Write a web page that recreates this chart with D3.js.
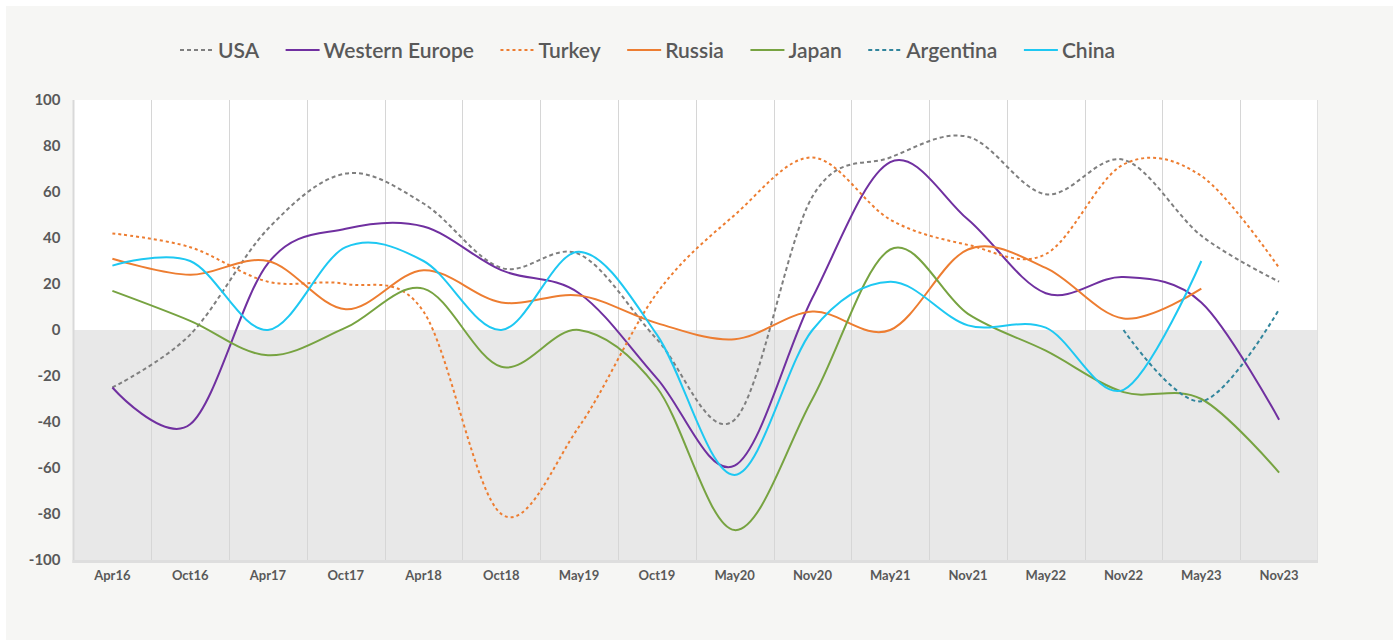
<!DOCTYPE html>
<html>
<head>
<meta charset="utf-8">
<script src="https://cdn.jsdelivr.net/npm/d3@7"></script>
<style>
  html, body { margin: 0; padding: 0; background: #ffffff; }
  svg { display: block; }
  text { font-family: "Lato", "Noto Sans", sans-serif; fill: #595959; }
</style>
</head>
<body>
<svg id="chart" width="1393" height="640"></svg>
<script>
const categories = ["Apr16","Oct16","Apr17","Oct17","Apr18","Oct18","May19","Oct19","May20","Nov20","May21","Nov21","May22","Nov22","May23","Nov23"];
const yTicks = [100, 80, 60, 40, 20, 0, -20, -40, -60, -80, -100];

const usa      = [-25, -2, 44, 68, 55, 27, 33, -4, -39, 58, 75, 84, 59, 74, 41, 21];
const westEu   = [-25, -41, 29, 44, 45, 26, 16, -21, -59, 14, 73, 48, 16, 23, 12, -39];
const turkey   = [42, 36, 21, 20, 8, -80, -42, 16, 50, 75, 48, 37, 33, 72, 67, 27];
const russia   = [31, 24, 30, 9, 26, 12, 15, 3, -4, 8, 0, 35, 27, 5, 18, null];
const japan    = [17, 4, -11, 1, 18, -16, 0, -25, -87, -30, 35, 7, -9, -27, -30, -62];
const argentina= [null, null, null, null, null, null, null, null, null, null, null, null, null, 0, -31, 9];
const china    = [28, 30, 0, 36, 30, 0, 34, -2, -63, 0, 21, 2, 1, -26, 30, null];

const seriesNames = ["USA", "Western Europe", "Turkey", "Russia", "Japan", "Argentina", "China"];
const seriesValues = [usa, westEu, turkey, russia, japan, argentina, china];
const seriesColors = ["#7f7f7f", "#7030a0", "#ed7d31", "#ed7d31", "#77a341", "#31859c", "#1ec8f2"];
const seriesDash = ["4,3", null, "3,3", null, null, "4,3", null];

const svg = d3.select("#chart");
const W = 1393, H = 640;

// panel background
svg.append("rect").attr("x", 0).attr("y", 0).attr("width", W).attr("height", H).attr("fill", "#ffffff");
svg.append("rect").attr("x", 6).attr("y", 6).attr("width", W - 6).attr("height", H - 6).attr("fill", "#f6f6f4");

const plot = { left: 73.5, right: 1318, top: 100, bottom: 560 };

const x = d3.scaleBand().domain(categories).range([plot.left, plot.right]).padding(0);
const y = d3.scaleLinear().domain([-100, 100]).range([plot.bottom, plot.top]);
const cx = c => x(c) + x.bandwidth() / 2;

// plot background: white above zero, gray below
svg.append("rect").attr("x", plot.left).attr("y", y(100)).attr("width", plot.right - plot.left)
  .attr("height", y(0) - y(100)).attr("fill", "#ffffff");
svg.append("rect").attr("x", plot.left).attr("y", y(0)).attr("width", plot.right - plot.left)
  .attr("height", y(-100) - y(0)).attr("fill", "#e8e8e8");

// vertical gridlines between categories
svg.append("g").selectAll("line").data(categories.slice(1)).join("line")
  .attr("x1", d => Math.round(x(d)) + 0.5).attr("x2", d => Math.round(x(d)) + 0.5)
  .attr("y1", y(100)).attr("y2", y(-100))
  .attr("stroke", "#d6d6d6").attr("stroke-width", 1);

// right border
svg.append("line").attr("x1", plot.right - 0.5).attr("x2", plot.right - 0.5)
  .attr("y1", y(100)).attr("y2", y(-100) + 3)
  .attr("stroke", "#e0e0e0").attr("stroke-width", 1);

// left axis line
svg.append("line").attr("x1", plot.left).attr("x2", plot.left)
  .attr("y1", y(100)).attr("y2", y(-100) + 3)
  .attr("stroke", "#d9d9d9").attr("stroke-width", 2);

// bottom axis strip
svg.append("line").attr("x1", plot.left - 1).attr("x2", plot.right)
  .attr("y1", y(-100) + 1.5).attr("y2", y(-100) + 1.5)
  .attr("stroke", "#dedede").attr("stroke-width", 3);

// y axis labels
const yAxis = d3.axisLeft(y).tickValues(yTicks).tickFormat(d => String(d)).tickSize(0).tickPadding(0);
const gy = svg.append("g").attr("transform", `translate(${plot.left - 13},0)`).call(yAxis);
gy.select(".domain").remove();
gy.selectAll("text").attr("font-size", 15).attr("font-weight", "bold")
  .style("font-family", '"Lato", "Noto Sans", sans-serif').attr("fill", "#595959");

// x axis labels
const xAxis = d3.axisBottom(x).tickSize(0).tickPadding(0);
const gx = svg.append("g").attr("transform", `translate(0,${plot.bottom + 11})`).call(xAxis);
gx.select(".domain").remove();
gx.selectAll("text").attr("font-size", 13).attr("font-weight", "bold")
  .style("font-family", '"Lato", "Noto Sans", sans-serif').attr("fill", "#595959");

// lines
const line = d3.line()
  .defined(d => d.v !== null)
  .x(d => cx(d.c))
  .y(d => y(d.v))
  .curve(d3.curveCardinal.tension(0));

seriesNames.forEach((name, i) => {
  const data = categories.map((c, j) => ({ c, v: seriesValues[i][j] }));
  svg.append("path").datum(data)
    .attr("d", line)
    .attr("fill", "none")
    .attr("stroke", seriesColors[i])
    .attr("stroke-width", 2)
    .attr("stroke-dasharray", seriesDash[i])
    .attr("stroke-linejoin", "round");
});

// legend
const legend = svg.append("g");
let lx = 180;
const ly = 50;
seriesNames.forEach((name, i) => {
  legend.append("line")
    .attr("x1", lx).attr("x2", lx + 34).attr("y1", ly).attr("y2", ly)
    .attr("stroke", seriesColors[i]).attr("stroke-width", 2)
    .attr("stroke-dasharray", seriesDash[i]);
  const t = legend.append("text")
    .attr("x", lx + 38).attr("y", ly).attr("dy", "0.36em")
    .attr("font-size", 21).attr("font-weight", 600)
    .text(name);
  lx += 38 + t.node().getComputedTextLength() + 26.5;
});
</script>
</body>
</html>
